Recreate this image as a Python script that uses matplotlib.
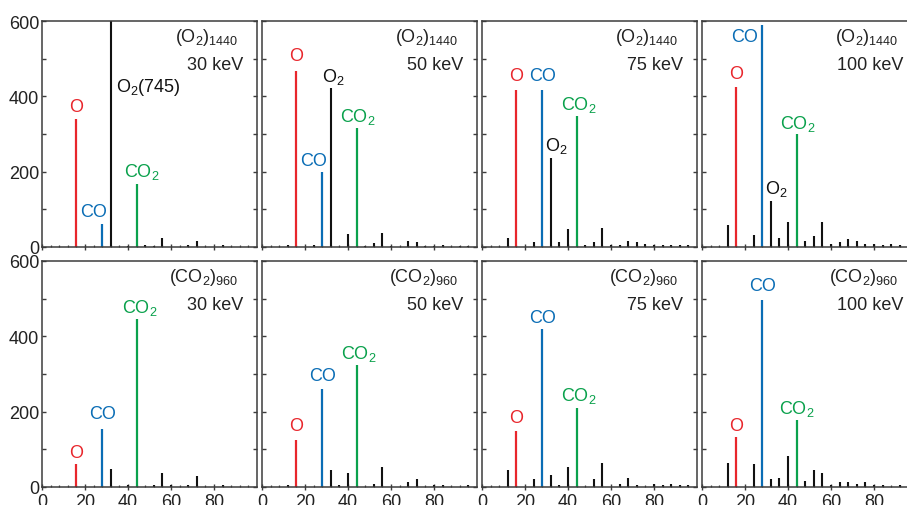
import matplotlib
matplotlib.use("Agg")
import matplotlib.pyplot as plt
from matplotlib.ticker import MultipleLocator, FixedLocator

plt.rcParams['font.family'] = ['Liberation Sans', 'DejaVu Sans']
plt.rcParams['mathtext.fontset'] = 'custom'
plt.rcParams['mathtext.rm'] = 'Liberation Sans'
plt.rcParams['mathtext.it'] = 'Liberation Sans:italic'
plt.rcParams['mathtext.bf'] = 'Liberation Sans:bold'

# ---------------- data ----------------
masses = [12, 16, 24, 28, 32, 36, 40, 44, 48, 52, 56, 60, 64, 68, 72, 76, 80, 84, 88, 92, 96]

o2_30 = [0, 339, 0, 61, 745, 0, 3, 168, 6, 3, 25, 0, 0, 5, 16, 0, 0, 5, 0, 0, 0]
o2_50 = [6, 467, 6, 199, 421, 0, 35, 315, 3, 11, 38, 3, 0, 17, 14, 3, 3, 6, 0, 3, 3]
o2_75 = [25, 416, 14, 416, 237, 12, 47, 349, 6, 12, 51, 4, 6, 17, 14, 9, 5, 5, 5, 4, 6]
o2_100 = [59, 424, 33, 590, 123, 23, 67, 299, 17, 30, 67, 9, 12, 20, 17, 9, 9, 6, 9, 6, 0]

co2_30 = [0, 62, 0, 153, 49, 0, 6, 446, 0, 4, 36, 6, 0, 6, 30, 0, 0, 6, 0, 0, 0]
co2_50 = [4, 126, 0, 260, 44, 4, 36, 324, 0, 9, 52, 0, 0, 14, 20, 0, 4, 6, 0, 0, 4]
co2_75 = [44, 150, 20, 420, 33, 6, 52, 209, 0, 22, 65, 0, 9, 25, 6, 0, 9, 6, 9, 6, 4]
co2_100 = [65, 132, 60, 497, 22, 25, 81, 177, 17, 46, 36, 6, 14, 12, 9, 12, 6, 6, 0, 4, 0]

cluster_labels = ["(O$\\mathregular{_2}$)$\\mathregular{_{1440}}$",
                  "(CO$\\mathregular{_2}$)$\\mathregular{_{960}}$"]
energies = ["30 keV", "50 keV", "75 keV", "100 keV"]
rows = [[o2_30, o2_50, o2_75, o2_100], [co2_30, co2_50, co2_75, co2_100]]

x_ticks = [0, 20, 40, 60, 80]
y_ticks = [0, 200, 400, 600]

# ---------------- styles ----------------
RED = '#e8262c'
BLUE = '#0a6db5'
GREEN = '#0aa14c'
BLACK = '#111111'
SPINE = '#3c3c3c'
mass_colors = {16: RED, 28: BLUE, 44: GREEN}

O2 = "O$\\mathregular{_2}$"
CO2 = "CO$\\mathregular{_2}$"

# label anchors (text, x, y, ha, color) per panel
labels = [
    [
        [("O", 16, 372, 'center', RED), ("CO", 24, 93, 'center', BLUE),
         (O2 + "(745)", 34.5, 427, 'left', BLACK), (CO2, 46.5, 203, 'center', GREEN)],
        [("O", 16, 508, 'center', RED), ("CO", 24.2, 230, 'center', BLUE),
         (O2, 33, 455, 'center', BLACK), (CO2, 44.5, 348, 'center', GREEN)],
        [("O", 16, 454, 'center', RED), ("CO", 28.2, 454, 'center', BLUE),
         (O2, 34.4, 272, 'center', BLACK), (CO2, 45.2, 380, 'center', GREEN)],
        [("O", 16, 460, 'center', RED), ("CO", 20, 560, 'center', BLUE),
         (O2, 34.4, 157, 'center', BLACK), (CO2, 44.4, 330, 'center', GREEN)],
    ],
    [
        [("O", 16, 92, 'center', RED), ("CO", 28, 196, 'center', BLUE),
         (CO2, 45.6, 477, 'center', GREEN)],
        [("O", 16, 162, 'center', RED), ("CO", 28, 295, 'center', BLUE),
         (CO2, 45.2, 355, 'center', GREEN)],
        [("O", 16, 184, 'center', RED), ("CO", 28, 451, 'center', BLUE),
         (CO2, 45, 244, 'center', GREEN)],
        [("O", 16, 164, 'center', RED), ("CO", 28, 535, 'center', BLUE),
         (CO2, 44, 211, 'center', GREEN)],
    ],
]

W, H = 907, 506
fig = plt.figure(figsize=(W / 100, H / 100), dpi=100)

lefts = [42, 262, 482, 702]
pw = 215
tops = [22, 262]
ph = 226

FS = 13

for r in range(2):
    for c in range(4):
        x0 = lefts[c] / W
        y0 = 1 - (tops[r] + ph) / H
        ax = fig.add_axes([x0, y0, pw / W, ph / H])
        vals = rows[r][c]
        cols = [mass_colors.get(m, BLACK) for m in masses]
        widths = [1.6 if m in mass_colors else 1.5 for m in masses]
        ax.vlines(masses, 0, vals, colors=cols, linewidths=widths)
        ax.set_xlim(0, 100)
        ax.set_ylim(0, 600)
        for sp in ax.spines.values():
            sp.set_color(SPINE)
            sp.set_linewidth(1.1)
        ax.xaxis.set_major_locator(FixedLocator(x_ticks))
        ax.xaxis.set_minor_locator(FixedLocator([m for m in range(4, 100, 4) if m % 20 != 0]))
        ax.yaxis.set_major_locator(FixedLocator(y_ticks))
        ax.yaxis.set_minor_locator(MultipleLocator(100))
        ax.tick_params(axis='x', which='major', direction='inout', length=5, width=1.0,
                       color=SPINE, top=False, labelsize=FS, pad=1.5,
                       labelbottom=(r == 1))
        ax.tick_params(axis='x', which='minor', direction='in', length=1.8, width=0.9,
                       color=SPINE, top=False)
        ax.tick_params(axis='y', which='both', direction='in', length=3, width=1.0,
                       color=SPINE, left=True, right=True, labelsize=FS, pad=2,
                       labelleft=(c == 0))
        for lab in ax.get_xticklabels() + ax.get_yticklabels():
            lab.set_color('#222222')

        for (txt, lx, ly, ha, col) in labels[r][c]:
            ax.text(lx, ly, txt, color=col, fontsize=FS, ha=ha, va='center')

        ax.text(pw - 19, ph - 15, cluster_labels[r], transform=None, fontsize=FS,
                ha='right', va='center', color='#222222')
        # place via offsets in axes pixel coords
        ax.texts[-1].set_transform(ax.transAxes)
        ax.texts[-1].set_position(((pw - 19) / pw, (ph - 15) / ph))
        ax.text((pw - 14) / pw, (ph - 43) / ph, energies[c], transform=ax.transAxes,
                fontsize=FS, ha='right', va='center', color='#222222')

fig.savefig("out.png", dpi=100)
